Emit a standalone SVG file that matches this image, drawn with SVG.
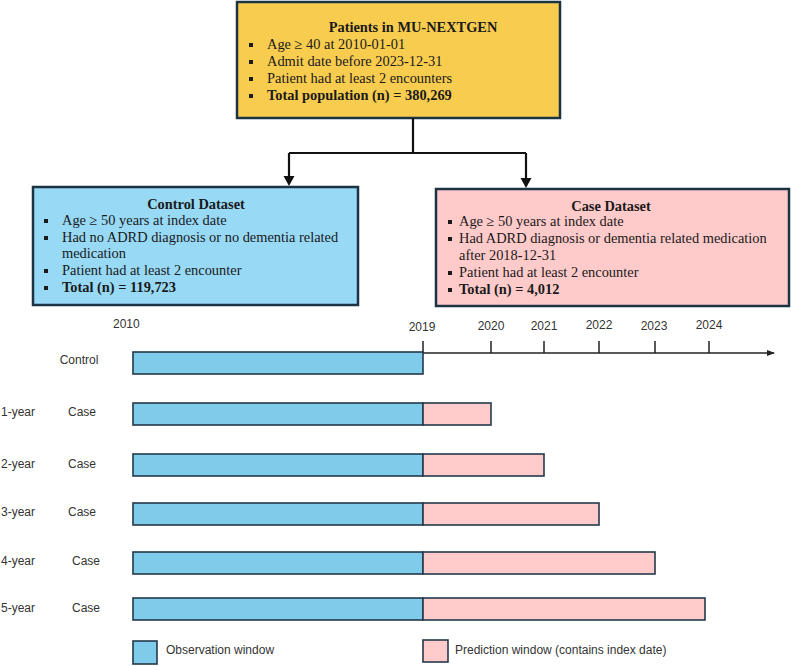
<svg xmlns="http://www.w3.org/2000/svg" width="791" height="666" viewBox="0 0 791 666">
<defs>
<style>
.box{stroke:#1c3344;stroke-width:2.5}
.serif{font-family:"Liberation Serif","Times New Roman",serif;font-size:14.4px;fill:#1a1a1a}
.b{font-weight:bold}
.sans{font-family:"Liberation Sans",Arial,sans-serif;font-size:12px;fill:#333}
.obs{fill:#7ecbea;stroke:#23394a;stroke-width:1.6}
.pred{fill:#ffcccb;stroke:#23394a;stroke-width:1.6}
.conn{fill:none;stroke:#111;stroke-width:2.2}
.axis{fill:none;stroke:#222;stroke-width:1.5}
.bul{fill:#1a1a1a}
</style>
<marker id="arr2" markerWidth="8" markerHeight="8" refX="7" refY="4" orient="auto" markerUnits="userSpaceOnUse">
<path d="M0,1 L8,4 L0,7 z" fill="#222"/>
</marker>
</defs>
<rect width="791" height="666" fill="#fff"/>

<g id="top">
<rect class="box" x="237" y="2" width="323" height="116" fill="#f8cc4f"/>
<text class="serif b" x="413" y="32" text-anchor="middle">Patients in MU-NEXTGEN</text>
<rect class="bul" x="249" y="43" width="4" height="4"/>
<rect class="bul" x="249" y="60" width="4" height="4"/>
<rect class="bul" x="249" y="77" width="4" height="4"/>
<rect class="bul" x="249" y="94" width="4" height="4"/>
<text class="serif" x="267" y="49">Age ≥ 40 at 2010-01-01</text>
<text class="serif" x="267" y="66">Admit date before 2023-12-31</text>
<text class="serif" x="267" y="83">Patient had at least 2 encounters</text>
<text class="serif b" x="267" y="100">Total population (n) = 380,269</text>
</g>

<g id="connectors">
<path class="conn" d="M413,118 V153 M289,153 H526"/>
<path class="conn" d="M289,153 V177"/>
<path class="conn" d="M526,153 V179"/>
<path d="M283.5,176 L294.5,176 L289,186 z" fill="#111"/>
<path d="M520.5,178 L531.5,178 L526,188 z" fill="#111"/>
</g>

<g id="control">
<rect class="box" x="33" y="187" width="325" height="118" fill="#98d9f6"/>
<text class="serif b" x="196" y="209" text-anchor="middle">Control Dataset</text>
<rect class="bul" x="44" y="219" width="4" height="4"/>
<rect class="bul" x="44" y="236" width="4" height="4"/>
<rect class="bul" x="44" y="269" width="4" height="4"/>
<rect class="bul" x="44" y="286" width="4" height="4"/>
<text class="serif" x="62" y="225">Age ≥ 50 years at index date</text>
<text class="serif" x="62" y="242">Had no ADRD diagnosis or no dementia related</text>
<text class="serif" x="62" y="258">medication</text>
<text class="serif" x="62" y="275">Patient had at least 2 encounter</text>
<text class="serif b" x="62" y="292">Total (n) = 119,723</text>
</g>

<g id="case">
<rect class="box" x="436" y="189" width="353" height="117" fill="#ffcaca"/>
<text class="serif b" x="611" y="211" text-anchor="middle">Case Dataset</text>
<rect class="bul" x="448" y="220" width="4" height="4"/>
<rect class="bul" x="448" y="237" width="4" height="4"/>
<rect class="bul" x="448" y="271" width="4" height="4"/>
<rect class="bul" x="448" y="288" width="4" height="4"/>
<text class="serif" x="459" y="226">Age ≥ 50 years at index date</text>
<text class="serif" x="459" y="243">Had ADRD diagnosis or dementia related medication</text>
<text class="serif" x="459" y="260">after 2018-12-31</text>
<text class="serif" x="459" y="277">Patient had at least 2 encounter</text>
<text class="serif b" x="459" y="294">Total (n) = 4,012</text>
</g>

<g id="timeline">
<text class="sans" x="113" y="328">2010</text>
<path class="axis" d="M423,353 H774" marker-end="url(#arr2)"/>
<path class="axis" d="M423,341 V353 M491,341 V353 M544,341 V353 M599,341 V353 M655,341 V353 M709,341 V353"/>
<text class="sans" x="422" y="331" text-anchor="middle">2019</text>
<text class="sans" x="491" y="330" text-anchor="middle">2020</text>
<text class="sans" x="544" y="330" text-anchor="middle">2021</text>
<text class="sans" x="599" y="329" text-anchor="middle">2022</text>
<text class="sans" x="654" y="330" text-anchor="middle">2023</text>
<text class="sans" x="709" y="329" text-anchor="middle">2024</text>
</g>

<g id="row-control">
<text class="sans" x="79" y="364" text-anchor="middle">Control</text>
<rect class="obs" x="133" y="352" width="290" height="22"/>
</g>
<g id="row-1">
<text class="sans" x="1" y="416">1-year</text>
<text class="sans" x="82" y="416" text-anchor="middle">Case</text>
<rect class="obs" x="133" y="403" width="290" height="22"/>
<rect class="pred" x="423" y="403" width="68" height="22"/>
</g>
<g id="row-2">
<text class="sans" x="1" y="468">2-year</text>
<text class="sans" x="82" y="468" text-anchor="middle">Case</text>
<rect class="obs" x="133" y="454" width="290" height="22"/>
<rect class="pred" x="423" y="454" width="121" height="22"/>
</g>
<g id="row-3">
<text class="sans" x="1" y="516">3-year</text>
<text class="sans" x="82" y="516" text-anchor="middle">Case</text>
<rect class="obs" x="133" y="503" width="290" height="22"/>
<rect class="pred" x="423" y="503" width="176" height="22"/>
</g>
<g id="row-4">
<text class="sans" x="1" y="565">4-year</text>
<text class="sans" x="86" y="565" text-anchor="middle">Case</text>
<rect class="obs" x="133" y="552" width="290" height="22"/>
<rect class="pred" x="423" y="552" width="232" height="22"/>
</g>
<g id="row-5">
<text class="sans" x="1" y="612">5-year</text>
<text class="sans" x="86" y="612" text-anchor="middle">Case</text>
<rect class="obs" x="133" y="598" width="290" height="22"/>
<rect class="pred" x="423" y="598" width="282" height="22"/>
</g>

<g id="legend">
<rect class="obs" x="133" y="641" width="24" height="23"/>
<text class="sans" x="166" y="654">Observation window</text>
<rect class="pred" x="423" y="640" width="25" height="22"/>
<text class="sans" x="455" y="654">Prediction window (contains index date)</text>
</g>
</svg>
